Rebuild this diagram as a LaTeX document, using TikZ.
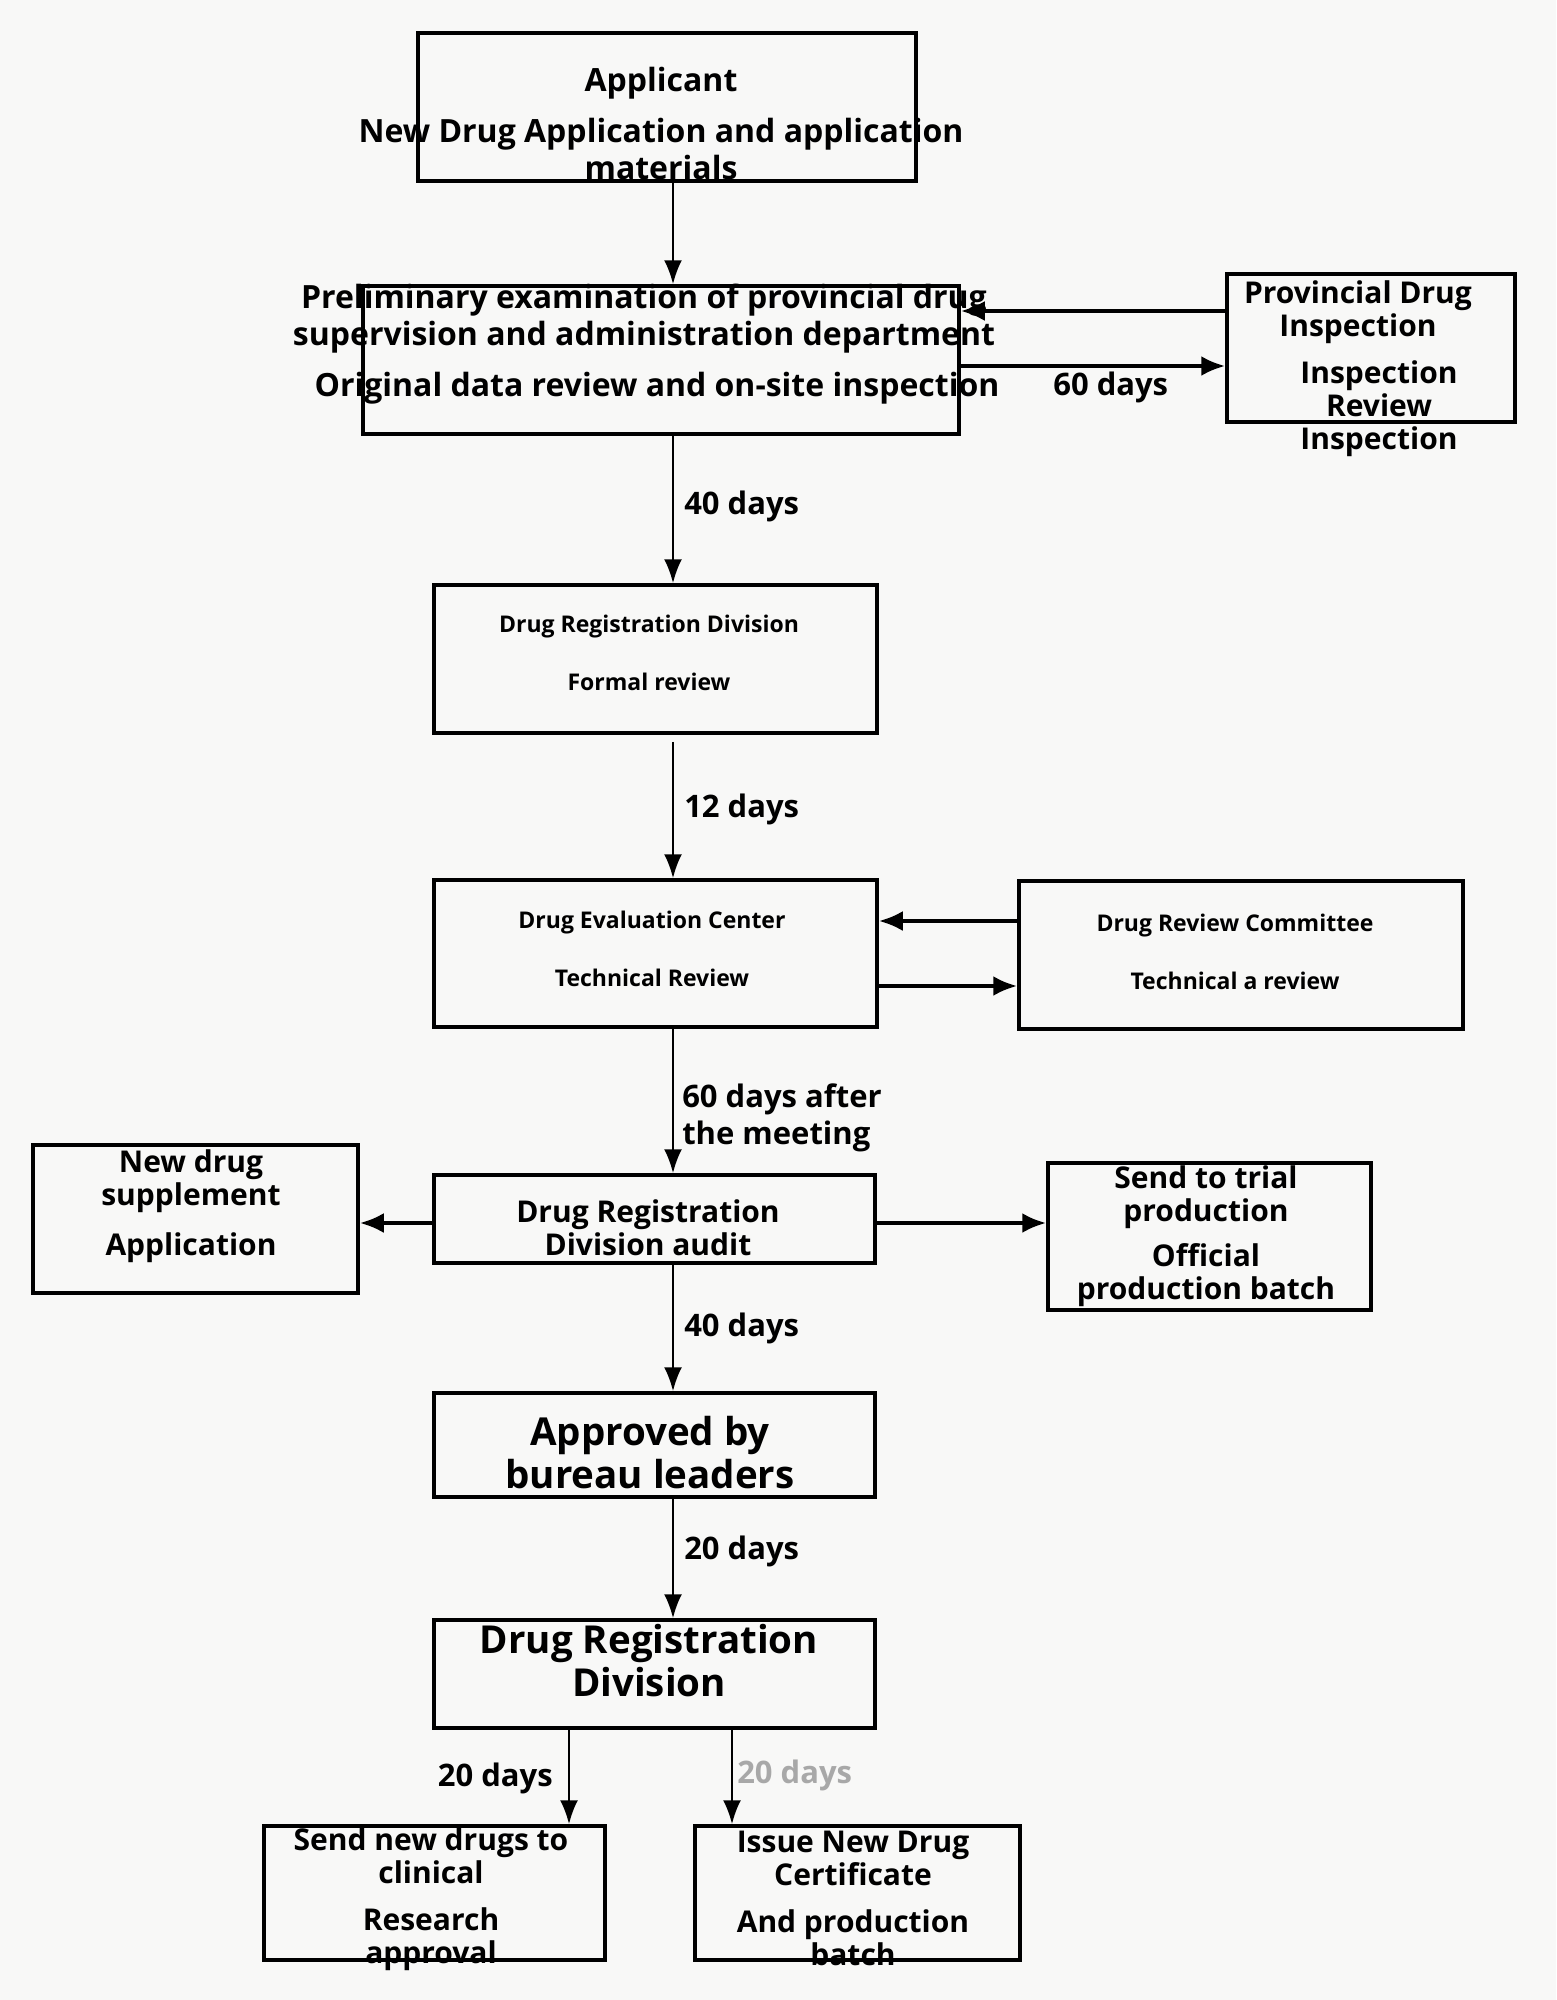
\documentclass[tikz,border=0pt]{standalone}
\usepackage{fontspec}
\setmainfont{Open Sans}
\usetikzlibrary{arrows.meta, positioning, calc}
\definecolor{paper}{HTML}{F8F8F7}
\definecolor{fade}{HTML}{A8A8A8}

\begin{document}
\begin{tikzpicture}[x=1pt, y=-1pt, >=Latex]
    \tikzset{procbox/.style = {rectangle, draw, line width=3.5pt, inner sep=0pt}}
    \tikzset{boxtext/.style = {align=center, inner sep=0pt, font=\bfseries\fontsize{32}{37}\selectfont}}
    \tikzset{midtext/.style = {boxtext, font=\bfseries\fontsize{30}{33}\selectfont}}
    \tikzset{smalltext/.style = {boxtext, font=\bfseries\fontsize{23}{28}\selectfont}}
    \tikzset{bigtext/.style = {boxtext, font=\bfseries\fontsize{38.5}{43}\selectfont}}
    \tikzset{days/.style = {inner sep=0pt, font=\bfseries\fontsize{31}{37}\selectfont}}
    \tikzset{flow/.style = {draw, -{Latex[length=24pt, width=18pt]}, line width=2.5pt}}
    \tikzset{link/.style = {draw, -{Latex[length=24pt, width=20pt]}, line width=4pt}}

    \fill[paper] (0,0) rectangle (1556,2000);
    \useasboundingbox (0,0) rectangle (1556,2000);

    % Boxes
    \node[procbox, minimum width=498pt, minimum height=148pt] (applicant) at (667,107) {};
    \node[procbox, minimum width=596pt, minimum height=148pt] (prelim) at (661,360) {};
    \node[procbox, minimum width=288pt, minimum height=148pt] (prov) at (1371,348) {};
    \node[procbox, minimum width=443pt, minimum height=148pt] (drd) at (655.5,659) {};
    \node[procbox, minimum width=443pt, minimum height=147pt] (dec) at (655.5,953.5) {};
    \node[procbox, minimum width=444pt, minimum height=148pt] (drc) at (1241,955) {};
    \node[procbox, minimum width=441pt, minimum height=88pt] (audit) at (654.5,1219) {};
    \node[procbox, minimum width=325pt, minimum height=148pt] (newdrug) at (195.5,1219) {};
    \node[procbox, minimum width=323pt, minimum height=147pt] (trial) at (1209.5,1236.5) {};
    \node[procbox, minimum width=441pt, minimum height=104pt] (approved) at (654.5,1445) {};
    \node[procbox, minimum width=441pt, minimum height=108pt] (division) at (654.5,1674) {};
    \node[procbox, minimum width=341pt, minimum height=134pt] (clinical) at (434.5,1893) {};
    \node[procbox, minimum width=325pt, minimum height=134pt] (certificate) at (857.5,1893) {};

    % Texts
    \node[boxtext] (applicant-t) at (661,123) {Applicant\\[14pt] New Drug Application and application\\ materials};
    \node[boxtext] (prelim-t) at (644,344) {Preliminary examination of provincial drug\\ supervision and administration department\\[14pt] \hspace*{26pt}Original data review and on-site inspection};
    \node[midtext] (prov-a) at (1358,312) {Provincial Drug\\ Inspection};
    \node[midtext] (prov-b) at (1379,409) {Inspection\\ Review\\ Inspection};
    \node[smalltext] (drd-t) at (649,653) {Drug Registration Division\\[30pt] Formal review};
    \node[smalltext] (dec-t) at (652,949) {Drug Evaluation Center\\[30pt] Technical Review};
    \node[smalltext] (drc-t) at (1235,952) {Drug Review Committee\\[30pt] Technical a review};
    \node[midtext] (audit-t) at (648,1228) {Drug Registration\\ Division audit};
    \node[midtext] (newdrug-t) at (191,1206) {New drug\\ supplement\\[17pt] Application};
    \node[midtext] (trial-t) at (1206,1236) {Send to trial\\ production\\[12pt] Official\\ production batch};
    \node[bigtext] (approved-t) at (650,1453) {Approved by\\ bureau leaders};
    \node[bigtext] (division-t) at (649,1661) {Drug Registration\\ Division};
    \node[midtext] (clinical-t) at (431,1899) {Send new drugs to\\ clinical\\[14pt] Research\\ approval};
    \node[midtext] (certificate-t) at (853,1898) {Issue New Drug\\ Certificate\\[14pt] And production\\ batch};

    % Connections
    \coordinate (spine) at (673,0);
    \draw[flow] (applicant.south -| spine) -- (prelim.north -| spine);
    \draw[flow] (prelim.south -| spine) -- node[days, right=10pt, pos=0.48] (d40a) {40 days} (drd.north -| spine);
    \draw[flow, shorten <=7pt] (drd.south -| spine) -- node[days, right=10pt, pos=0.52] (d12) {12 days} (dec.north -| spine);
    \draw[flow] (dec.south -| spine) -- node[days, right=8pt, pos=0.62, align=left] (d60m) {60 days after\\ the meeting} (audit.north -| spine);
    \draw[flow] (audit.south -| spine) -- node[days, right=10pt] (d40b) {40 days} (approved.north -| spine);
    \draw[flow] (approved.south -| spine) -- node[days, right=10pt, pos=0.44] (d20a) {20 days} (division.north -| spine);
    \draw[flow] ([xshift=134.5pt]division.south -| clinical.north) -- node[days, left=15pt, pos=0.52] (d20b) {20 days} ([xshift=134.5pt]clinical.north);
    \draw[flow] ([xshift=-125.5pt]division.south -| certificate.north) -- node[days, right=4pt, pos=0.48, text=fade] (d20c) {20 days} ([xshift=-125.5pt]certificate.north);

    \draw[link] ([yshift=37pt]prov.west) -- ([yshift=37pt]prov.west -| prelim.east);
    \draw[link] ([yshift=-6pt]prelim.east) -- node[days, below=4pt, pos=0.567] (d60) {60 days} ([yshift=-6pt]prelim.east -| prov.west);
    \draw[link] ([yshift=34pt]drc.west) -- ([yshift=34pt]drc.west -| dec.east);
    \draw[link] ([yshift=-32.5pt]dec.east) -- ([yshift=-32.5pt]dec.east -| drc.west);
    \draw[link] ([yshift=-4pt]audit.west) -- ([yshift=-4pt]audit.west -| newdrug.east);
    \draw[link] ([yshift=-4pt]audit.east) -- ([yshift=-4pt]audit.east -| trial.west);
\end{tikzpicture}
\end{document}
